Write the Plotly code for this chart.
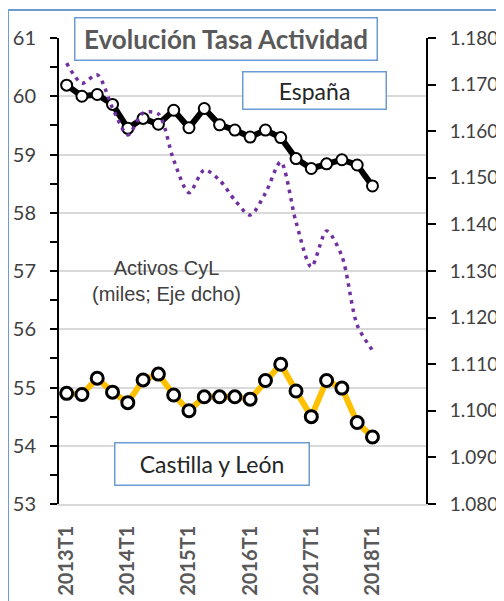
import plotly.graph_objects as go

periods = ["2013T1", "2013T2", "2013T3", "2013T4",
           "2014T1", "2014T2", "2014T3", "2014T4",
           "2015T1", "2015T2", "2015T3", "2015T4",
           "2016T1", "2016T2", "2016T3", "2016T4",
           "2017T1", "2017T2", "2017T3", "2017T4",
           "2018T1"]
espana = [60.19, 60.00, 60.03, 59.86, 59.45, 59.62, 59.52, 59.76, 59.46, 59.79,
          59.51, 59.42, 59.30, 59.42, 59.29, 58.93, 58.76, 58.84, 58.91, 58.82, 58.46]
cyl = [54.90, 54.88, 55.16, 54.92, 54.74, 55.13, 55.23, 54.87, 54.60, 54.84,
       54.84, 54.84, 54.80, 55.12, 55.40, 54.94, 54.50, 55.12, 54.99, 54.40, 54.15]
activos_cyl = [1174.6, 1170.3, 1172.1, 1165.0, 1159.2, 1163.9, 1163.7, 1153.8, 1146.8, 1151.7,
               1149.5, 1145.2, 1142.0, 1146.7, 1153.4, 1140.5, 1130.9, 1138.6, 1133.2, 1118.4, 1113.0]
n_slots = 24  # category slots on the axis (2013T1 .. 2018T4)

idx = list(range(len(periods)))
label_idx = idx[::4]
boundaries = [i - 0.5 for i in range(4, n_slots, 4)]

GRID = "#d9d9d9"
FRAME = "#6c9bd2"

fig = go.Figure()
fig.add_trace(go.Scatter(
    x=idx, y=espana, mode="lines+markers", yaxis="y",
    line=dict(color="black", width=6),
    marker=dict(size=11, color="white", line=dict(color="black", width=2)),
    hoverinfo="skip"))
fig.add_trace(go.Scatter(
    x=idx, y=cyl, mode="lines+markers", yaxis="y",
    line=dict(color="#ffc000", width=6),
    marker=dict(size=12, color="white", line=dict(color="black", width=3)),
    hoverinfo="skip"))
fig.add_trace(go.Scatter(
    x=idx, y=activos_cyl, mode="lines", yaxis="y2",
    line=dict(color="#7030a0", width=3.5, dash="3.5px,5px", shape="spline", smoothing=0.8),
    hoverinfo="skip"))

tick_font = dict(family="Lato", size=20, color="#404040")

# the page body adds an 8px offset, so the figure is 8px smaller and shifted
fig.update_layout(
    width=496, height=593,
    margin=dict(l=51, r=78, t=30, b=97, autoexpand=False),
    paper_bgcolor="white", plot_bgcolor="white",
    showlegend=False,
    separators=",.",
    xaxis=dict(range=[-0.5, n_slots - 0.5], tickmode="array", tickvals=label_idx,
               ticktext=[periods[i] for i in label_idx], tickangle=-90,
               tickfont=dict(family="Lato", size=20, color="#595959", weight="bold"),
               showgrid=False, zeroline=False, showline=True, linecolor=GRID, linewidth=1.5,
               ticks="", ticklabelstandoff=12, automargin=False),
    xaxis2=dict(range=[-0.5, n_slots - 0.5], overlaying="x", anchor="y", tickmode="array",
                tickvals=boundaries, showticklabels=False, showgrid=True,
                gridcolor=GRID, gridwidth=1.5, zeroline=False, ticks="", automargin=False),
    yaxis=dict(range=[53, 61], dtick=1, tickformat="d", tickfont=tick_font,
               showgrid=True, gridcolor=GRID, gridwidth=1.5, zeroline=False,
               showline=True, linecolor="black", linewidth=2,
               ticks="outside", ticklen=7, tickwidth=2, tickcolor="black",
               minor=dict(dtick=0.5, ticks="outside", ticklen=7, tickwidth=2,
                          tickcolor="black", showgrid=False),
               ticklabelstandoff=10, automargin=False),
    yaxis3=dict(range=[53, 61], overlaying="y", side="left", anchor="x", dtick=1,
                showticklabels=False, showgrid=False, zeroline=False, showline=False,
                ticks="inside", ticklen=4, tickwidth=2, tickcolor="black",
                minor=dict(dtick=0.5, ticks="inside", ticklen=4, tickwidth=2,
                           tickcolor="black", showgrid=False), automargin=False),
    yaxis2=dict(range=[1080, 1180], overlaying="y", side="right", anchor="x", dtick=10,
                tickformat=",d", tickfont=dict(family="Lato", size=19, color="#404040"),
                showgrid=False, zeroline=False, showline=True, linecolor="black", linewidth=2,
                ticks="outside", ticklen=8, tickwidth=2, tickcolor="black",
                ticklabelstandoff=10, automargin=False),
    yaxis4=dict(range=[1080, 1180], overlaying="y", side="right", anchor="x", dtick=10,
                showticklabels=False, showgrid=False, zeroline=False, showline=False,
                ticks="inside", ticklen=2, tickwidth=2, tickcolor="black", automargin=False),
)

# outer chart frame
fig.add_shape(type="rect", xref="paper", yref="paper",
              x0=-0.139, x1=1.25, y0=-0.25, y1=1.060,
              line=dict(color=FRAME, width=2), fillcolor="rgba(0,0,0,0)", layer="below")

fig.add_annotation(xref="paper", yref="paper", x=0.456, y=0.9968,
                   xanchor="center", yanchor="middle",
                   text="<b>Evolución Tasa Actividad</b>", showarrow=False,
                   font=dict(family="Lato", size=26, color="#595959"),
                   width=301, height=41, borderpad=0, borderwidth=1.5,
                   bordercolor=FRAME, bgcolor="white")
fig.add_annotation(xref="paper", yref="paper", x=0.695, y=0.888,
                   xanchor="center", yanchor="middle",
                   text="España", showarrow=False,
                   font=dict(family="Lato", size=23, color="#262626"),
                   width=142, height=36, borderpad=0, borderwidth=1.5,
                   bordercolor=FRAME, bgcolor="white")
fig.add_annotation(xref="paper", yref="paper", x=0.418, y=0.0848,
                   xanchor="center", yanchor="middle",
                   text="Castilla y León", showarrow=False,
                   font=dict(family="Lato", size=23, color="#262626"),
                   width=193, height=41, borderpad=0, borderwidth=1.5,
                   bordercolor=FRAME, bgcolor="white")
fig.add_annotation(xref="paper", yref="paper", x=0.294, y=0.479,
                   xanchor="center", yanchor="middle",
                   text="Activos CyL<br>(miles; Eje dcho)", showarrow=False,
                   font=dict(family="Liberation Sans", size=20, color="#404040"))

fig.write_html("out.html")
